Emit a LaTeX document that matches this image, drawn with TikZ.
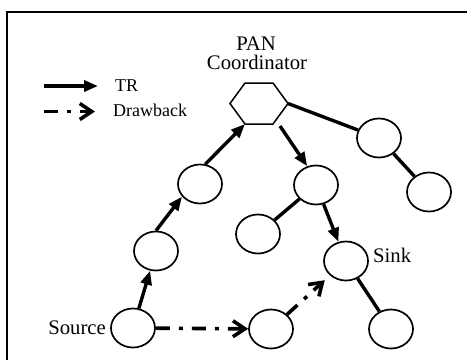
\documentclass[tikz,border=0pt]{standalone}
\usepackage{fontspec}
\setmainfont{Liberation Serif}
\usetikzlibrary{shapes.geometric,arrows.meta}
\begin{document}
\begin{tikzpicture}[x=1bp,y=-1bp,
  nd/.style={ellipse,draw,line width=1.7bp,minimum width=44bp,minimum height=39bp,inner sep=0pt},
  lbl/.style={inner sep=0pt,font=\fontsize{20.7bp}{22bp}\selectfont},
  leg/.style={inner sep=0pt,font=\fontsize{18bp}{20bp}\selectfont},
  tr/.style={line width=3.4bp,-{Triangle[length=14bp,width=11bp]}},
  link/.style={line width=3.4bp},
  drawback/.style={line width=3.6bp,dash pattern=on 14bp off 9bp on 4bp off 9bp,-{Straight Barb[length=12bp,width=16bp]}},
  hexline/.style={line width=1.5bp,line join=miter}
]
\useasboundingbox (0,0) rectangle (467,360);
% frame
\draw[line width=1.6bp] (7,360) -- (7,12) -- (467,12);

% legend
\coordinate (la1) at (44,86);
\coordinate (la2) at (98,86);
\coordinate (lb1) at (44,111.5);
\coordinate (lb2) at (95,111.5);
\draw[tr] (la1) -- (la2);
\draw[drawback] (lb1) -- (lb2);
\node[leg,anchor=base west] (ltr) at (115,91.5) {TR};
\node[leg,anchor=base west] (ldb) at (113,116.5) {Drawback};

% PAN coordinator
\coordinate (hL) at (230,103.5);
\coordinate (hTL) at (245,83);
\coordinate (hTR) at (273,83);
\coordinate (hR) at (288,103.5);
\coordinate (hBR) at (273,124);
\coordinate (hBL) at (245,124);
\coordinate (hOut) at (280,126);
\draw[hexline] (hL) -- (hTL) -- (hTR) -- (hR) -- (hBR) -- (hBL) -- cycle;
\node[lbl,anchor=base] (pan) at (256,50) {PAN};
\node[lbl,anchor=base] (coord) at (257,69.5) {Coordinator};

% nodes
\node[nd] (src) at (133,328) {};
\node[nd] (n2) at (156,251) {};
\node[nd] (n3) at (200,184) {};
\node[nd] (m1) at (316,185) {};
\node[nd] (m2) at (258,234) {};
\node[nd] (sink) at (346,261) {};
\node[nd] (b1) at (271,329) {};
\node[nd] (b2) at (391,329) {};
\node[nd] (r1) at (379,138) {};
\node[nd] (r2) at (429,192) {};

\node[lbl,anchor=base east] (srcl) at (106,334) {Source};
\node[lbl,anchor=base west] (sinkl) at (373,262.7) {Sink};

% TR path
\draw[tr] (src) -- (n2);
\draw[tr] (n2.north) -- (n3.215);
\draw[tr] (n3.75) -- (hBL);
\draw[tr] (hOut) -- (m1.115);
\draw[tr] (m1) -- (sink);

% plain links
\draw[link] (hR) -- (r1);
\draw[link] (r1) -- (r2);
\draw[link] (m1) -- (m2);
\draw[link] (sink) -- (b2);

% drawback
\draw[drawback] (src) -- (b1);
\draw[drawback,shorten >=7bp] (b1) -- (sink);
\end{tikzpicture}
\end{document}
